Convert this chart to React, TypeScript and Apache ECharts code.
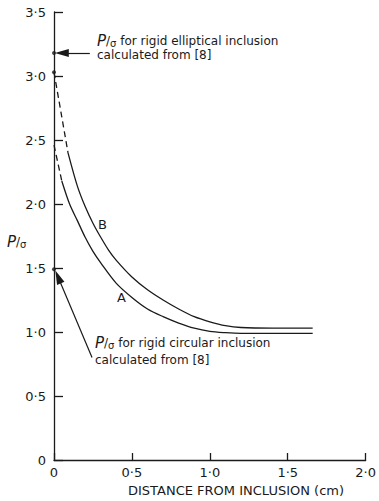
import React, { useEffect, useRef } from "react";
import * as echarts from "echarts";

// Curve A (lower): distance from inclusion (cm) vs P/σ
const distA = [0, 0.05, 0.1, 0.15, 0.2, 0.25, 0.3, 0.4, 0.5, 0.6, 0.7, 0.8, 0.9, 1.0, 1.1, 1.2, 1.4, 1.66];
const ratioA = [2.46, 2.18, 2.0, 1.87, 1.74, 1.63, 1.54, 1.38, 1.27, 1.18, 1.12, 1.07, 1.03, 1.005, 0.995, 0.99, 0.99, 0.99];
// Curve B (upper)
const distB = [0, 0.09, 0.15, 0.2, 0.25, 0.3, 0.35, 0.4, 0.5, 0.6, 0.7, 0.8, 0.9, 1.0, 1.1, 1.2, 1.4, 1.66];
const ratioB = [3.03, 2.4, 2.14, 1.98, 1.85, 1.74, 1.64, 1.56, 1.43, 1.33, 1.25, 1.18, 1.12, 1.08, 1.05, 1.035, 1.03, 1.03];
// reference points on the axis
const refDist = [0, 0, 0];
const refRatio = [3.18, 3.03, 1.49];
// arrows: [tailX, tailY, headX, headY]
const arrowElliptical = [0.23, 3.18, 0.05, 3.18];
const arrowCircular = [0.244, 0.8, 0.026, 1.43];

const FONT = "DejaVu Sans";
const INK = "#1a1a1a";

const fmt = (v: number) => (v === 0 ? "0" : v.toFixed(1).replace(".", "·"));
const pairs = (xs: number[], ys: number[], from = 0, to = xs.length) =>
  xs.slice(from, to).map((x, i) => [x, ys[from + i]]);

export default function App() {
  const ref = useRef<HTMLDivElement>(null);
  useEffect(() => {
    if (!ref.current) return;
    const chart = echarts.init(ref.current, null, { renderer: "svg" });
    const arrowLine = (a: number[]) => ({
      silent: true,
      symbol: ["none", "triangle"],
      symbolSize: [8, 14],
      label: { show: false },
      lineStyle: { color: INK, width: 1.2, type: "solid" },
      data: [[{ coord: [a[0], a[1]] }, { coord: [a[2], a[3]] }]],
    });
    const pStyle = {
      p: { fontFamily: FONT, fontStyle: "italic", fontSize: 15, color: INK },
      s: { fontFamily: FONT, fontSize: 10, color: INK, padding: [6, 0, 0, 0] },
      t: { fontFamily: FONT, fontSize: 12, color: INK },
    };
    chart.setOption({
      animation: false,
      backgroundColor: "#ffffff",
      grid: { left: 54, right: 13, top: 12, bottom: 41, containLabel: false },
      xAxis: {
        type: "value",
        min: 0,
        max: 2,
        interval: 0.5,
        axisLine: { lineStyle: { color: INK, width: 1.3 } },
        axisTick: { inside: true, length: 7, lineStyle: { color: INK, width: 1.3 } },
        axisLabel: { formatter: (v: number) => fmt(v), color: INK, fontFamily: FONT, fontSize: 13, margin: 6 },
        splitLine: { show: false },
      },
      yAxis: {
        type: "value",
        min: 0,
        max: 3.5,
        interval: 0.5,
        axisLine: { show: true, lineStyle: { color: INK, width: 1.3 } },
        axisTick: { show: true, inside: true, length: 9, lineStyle: { color: INK, width: 1.3 } },
        axisLabel: { formatter: (v: number) => fmt(v), color: INK, fontFamily: FONT, fontSize: 13, margin: 8 },
        splitLine: { show: false },
      },
      series: [
        {
          name: "A dashed",
          type: "line",
          data: pairs(distA, ratioA, 0, 2),
          symbol: "none",
          lineStyle: { color: INK, width: 1.3, type: [6, 4] },
        },
        {
          name: "A",
          type: "line",
          data: pairs(distA, ratioA, 1),
          symbol: "none",
          smooth: 0.3,
          lineStyle: { color: INK, width: 1.3 },
        },
        {
          name: "B dashed",
          type: "line",
          data: pairs(distB, ratioB, 0, 2),
          symbol: "none",
          lineStyle: { color: INK, width: 1.3, type: [6, 4] },
        },
        {
          name: "B",
          type: "line",
          data: pairs(distB, ratioB, 1),
          symbol: "none",
          smooth: 0.3,
          lineStyle: { color: INK, width: 1.3 },
        },
        {
          name: "references",
          type: "scatter",
          data: pairs(refDist, refRatio),
          symbolSize: 4,
          itemStyle: { color: INK },
          z: 5,
        },
        {
          name: "arrow1",
          type: "line",
          data: [],
          markLine: arrowLine(arrowElliptical),
        },
        {
          name: "arrow2",
          type: "line",
          data: [],
          markLine: arrowLine(arrowCircular),
        },
      ],
      graphic: [
        {
          type: "text",
          left: 97,
          top: 33,
          style: { text: "{p|P}{t|/}{s|σ}{t| for rigid elliptical inclusion}", rich: pStyle, fill: INK },
        },
        {
          type: "text",
          left: 97,
          top: 49,
          style: { text: "calculated from [8]", font: `12px "${FONT}"`, fill: INK },
        },
        {
          type: "text",
          left: 95,
          top: 335,
          style: { text: "{p|P}{t|/}{s|σ}{t| for rigid circular inclusion}", rich: pStyle, fill: INK },
        },
        {
          type: "text",
          left: 95,
          top: 354,
          style: { text: "calculated from [8]", font: `12px "${FONT}"`, fill: INK },
        },
        {
          type: "text",
          left: 7,
          top: 234,
          style: { text: "{p|P}{t|/}{s|σ}", rich: pStyle, fill: INK },
        },
        {
          type: "text",
          left: 98,
          top: 218,
          style: { text: "B", font: `13px "${FONT}"`, fill: INK },
        },
        {
          type: "text",
          left: 117,
          top: 291,
          style: { text: "A", font: `13px "${FONT}"`, fill: INK },
        },
        {
          type: "text",
          x: 236,
          y: 490,
          style: {
            text: "DISTANCE FROM INCLUSION (cm)",
            font: `13px "${FONT}"`,
            fill: INK,
            align: "center",
            verticalAlign: "middle",
          },
        },
      ],
    });
    return () => chart.dispose();
  }, []);
  return <div ref={ref} style={{ width: 379, height: 501, position: "absolute", left: 0, top: 0 }} />;
}
